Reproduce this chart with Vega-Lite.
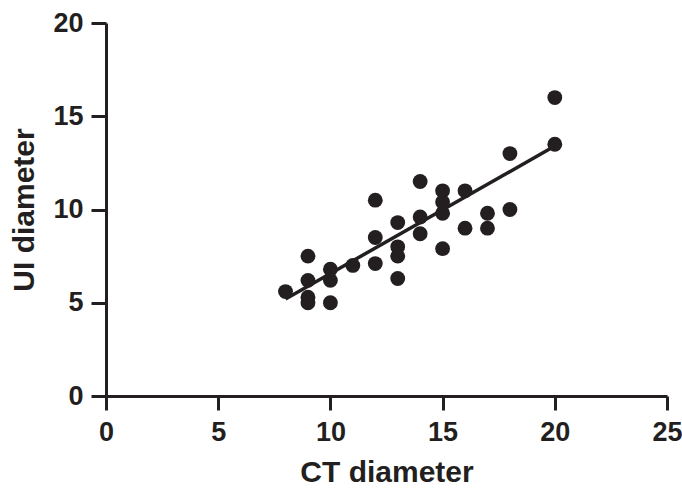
{
  "$schema": "https://vega.github.io/schema/vega-lite/v6.json",
  "width": 561,
  "height": 373,
  "autosize": {"type": "none"},
  "padding": {"left": 106, "top": 23, "right": 15, "bottom": 94},
  "background": "white",
  "config": {
    "view": {"stroke": null},
    "font": "Liberation Sans",
    "axis": {
      "domainColor": "#231f20", "domainWidth": 3, "tickColor": "#231f20", "tickWidth": 3,
      "grid": false, "labelFlush": false, "labelOverlap": false, "labelFont": "Liberation Sans", "labelFontWeight": "bold",
      "labelFontSize": 27, "labelColor": "#231f20", "titleFont": "Liberation Sans",
      "titleFontWeight": "bold", "titleFontSize": 30, "titleColor": "#231f20"
    }
  },
  "datasets": {
    "pts": [
      {"ct": 8, "ui": 5.6},
      {"ct": 9, "ui": 7.5}, {"ct": 9, "ui": 6.2}, {"ct": 9, "ui": 5.3}, {"ct": 9, "ui": 5.0},
      {"ct": 10, "ui": 6.8}, {"ct": 10, "ui": 6.2}, {"ct": 10, "ui": 5.0},
      {"ct": 11, "ui": 7.0},
      {"ct": 12, "ui": 10.5}, {"ct": 12, "ui": 8.5}, {"ct": 12, "ui": 7.1},
      {"ct": 13, "ui": 9.3}, {"ct": 13, "ui": 8.0}, {"ct": 13, "ui": 7.5}, {"ct": 13, "ui": 6.3},
      {"ct": 14, "ui": 11.5}, {"ct": 14, "ui": 9.6}, {"ct": 14, "ui": 8.7},
      {"ct": 15, "ui": 11.0}, {"ct": 15, "ui": 10.4}, {"ct": 15, "ui": 9.8}, {"ct": 15, "ui": 7.9},
      {"ct": 16, "ui": 11.0}, {"ct": 16, "ui": 9.0},
      {"ct": 17, "ui": 9.8}, {"ct": 17, "ui": 9.0},
      {"ct": 18, "ui": 13.0}, {"ct": 18, "ui": 10.0},
      {"ct": 20, "ui": 16.0}, {"ct": 20, "ui": 13.5}
    ],
    "fit": [{"ct": 8, "ui": 5.2}, {"ct": 20, "ui": 13.4}]
  },
  "layer": [
    {
      "data": {"name": "fit"},
      "mark": {"type": "line", "color": "#231f20", "strokeWidth": 3.5},
      "encoding": {
        "x": {"field": "ct", "type": "quantitative", "scale": {"domain": [0, 25], "nice": false},
              "axis": {"title": "CT diameter", "values": [0, 5, 10, 15, 20, 25], "tickSize": 14, "labelPadding": 9, "titlePadding": 12}},
        "y": {"field": "ui", "type": "quantitative", "scale": {"domain": [0, 20], "nice": false},
              "axis": {"title": "UI diameter", "values": [0, 5, 10, 15, 20], "tickSize": 15, "labelPadding": 8, "titlePadding": 13}}
      }
    },
    {
      "data": {"name": "pts"},
      "mark": {"type": "point", "filled": true, "color": "#231f20", "opacity": 1, "size": 220},
      "encoding": {
        "x": {"field": "ct", "type": "quantitative"},
        "y": {"field": "ui", "type": "quantitative"}
      }
    }
  ]
}
